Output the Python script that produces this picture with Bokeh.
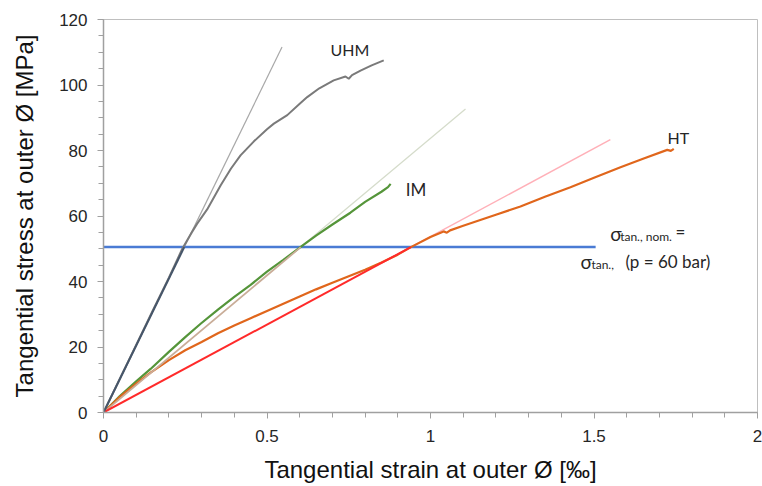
from bokeh.plotting import figure
from bokeh.models import Range1d, SingleIntervalTicker, Label
from bokeh.embed import file_html
from bokeh.resources import INLINE

# ---------------- data ----------------
uhm_x = [0, 0.05, 0.10, 0.15, 0.20, 0.241, 0.27, 0.286, 0.317, 0.358, 0.39, 0.419,
         0.46, 0.50, 0.521, 0.562, 0.60, 0.623, 0.66, 0.704, 0.74, 0.75, 0.76,
         0.786, 0.82, 0.857]
uhm_y = [0, 10.3, 20.6, 31.0, 41.2, 50.0, 55.0, 57.6, 62.0, 69.3, 74.5, 78.5,
         82.8, 86.5, 88.2, 90.8, 94.3, 96.3, 99.0, 101.4, 102.6, 101.9, 103.0,
         104.4, 106.0, 107.5]

im_x = [0, 0.05, 0.10, 0.144, 0.20, 0.25, 0.297, 0.35, 0.40, 0.45, 0.50, 0.55,
        0.602, 0.65, 0.70, 0.755, 0.80, 0.85, 0.87, 0.878]
im_y = [0, 5.0, 9.5, 13.3, 18.5, 23.0, 27.1, 31.4, 35.3, 39.0, 43.0, 46.6,
        50.5, 54.0, 57.4, 61.0, 64.3, 67.4, 68.8, 69.8]

ht_x = [0, 0.05, 0.10, 0.144, 0.20, 0.25, 0.30, 0.35, 0.40, 0.45, 0.50, 0.55,
        0.60, 0.65, 0.70, 0.75, 0.80, 0.85, 0.90, 0.94, 1.00, 1.04, 1.05, 1.06,
        1.10, 1.15, 1.20, 1.275, 1.35, 1.428, 1.50, 1.581, 1.65, 1.724, 1.735, 1.744]
ht_y = [0, 4.8, 8.8, 12.2, 16.0, 19.0, 21.5, 24.2, 26.6, 28.8, 31.0, 33.2,
        35.4, 37.6, 39.6, 41.6, 43.6, 45.8, 48.2, 50.5, 53.6, 55.3, 54.9, 55.6,
        57.0, 58.7, 60.4, 62.9, 65.9, 68.8, 71.7, 74.9, 77.5, 80.2, 79.9, 80.5]

# secant lines: origin -> intersection with nominal stress -> end of extension
sec_uhm_x = [0, 0.247, 0.546]
sec_uhm_y = [0, 50.5, 111.6]
sec_im_x = [0, 0.603, 1.107]
sec_im_y = [0, 50.5, 92.7]
sec_ht_x = [0, 0.94, 1.55]
sec_ht_y = [0, 50.5, 83.3]

nominal_x = [0, 1.505]
nominal_y = [50.5, 50.5]

series_names = ["UHM", "IM", "HT"]

x_ticks = [0, 0.5, 1, 1.5, 2]
x_tick_labels = ["0", "0.5", "1", "1.5", "2"]

# ---------------- figure ----------------
p = figure(width=762, height=486, output_backend="svg", toolbar_location=None,
           x_range=Range1d(0, 2), y_range=Range1d(0, 120),
           min_border_left=103, min_border_right=5, min_border_top=19,
           min_border_bottom=74)
p.background_fill_color = "white"
p.border_fill_color = "white"
p.outline_line_color = "#bfbfbf"
p.outline_line_width = 1
p.xgrid.grid_line_color = None
p.ygrid.grid_line_color = None

AX_FONT = "Liberation Sans"
for ax in (p.xaxis, p.yaxis):
    ax.axis_line_color = "#a0a0a0"
    ax.axis_line_width = 1.5
    ax.major_tick_line_color = "#a0a0a0"
    ax.minor_tick_line_color = "#a0a0a0"
    ax.major_tick_out = 6
    ax.major_tick_in = 0
    ax.minor_tick_out = 5
    ax.minor_tick_in = 0
    ax.major_label_text_font = AX_FONT
    ax.major_label_text_font_size = "17px"
    ax.major_label_text_color = "#262626"
    ax.axis_label_text_font = AX_FONT
    ax.axis_label_text_font_size = "24px"
    ax.axis_label_text_font_style = "normal"
    ax.axis_label_text_color = "#111111"

p.xaxis.ticker = SingleIntervalTicker(interval=0.5, num_minor_ticks=5)
p.xaxis.major_label_overrides = {float(t): s for t, s in zip(x_ticks, x_tick_labels)}
p.yaxis.ticker = SingleIntervalTicker(interval=20, num_minor_ticks=4)
p.xaxis.major_label_standoff = 11
p.yaxis.major_label_standoff = 10
p.xaxis.axis_label_standoff = 11
p.yaxis.axis_label_standoff = 18
p.xaxis.axis_label = "Tangential strain at outer Ø [‰]"
p.yaxis.axis_label = "Tangential stress at outer Ø [MPa]"

# faint extensions of secants
p.line(sec_uhm_x[1:], sec_uhm_y[1:], line_color="#a8a8a8", line_width=1.2)
p.line(sec_im_x[1:], sec_im_y[1:], line_color="#d5dccb", line_width=1.3)
p.line(sec_ht_x[1:], sec_ht_y[1:], line_color="#ffb0b8", line_width=1.5)

# nominal stress line
p.line(nominal_x, nominal_y, line_color="#4a7bd4", line_width=2.5)

# measured curves
p.line(uhm_x, uhm_y, line_color="#7a7a7a", line_width=2)
p.line(im_x, im_y, line_color="#55953a", line_width=2.2)
p.line(ht_x, ht_y, line_color="#e0661c", line_width=2.2)

# strong secants up to nominal stress
p.line(sec_im_x[:2], sec_im_y[:2], line_color="#c9ad98", line_width=1.8)
p.line(sec_ht_x[:2], sec_ht_y[:2], line_color="#ff2a2a", line_width=2)
p.line(sec_uhm_x[:2], sec_uhm_y[:2], line_color="#46566a", line_width=2)

# series labels
TXT_FONT = "Lato"
p.add_layout(Label(x=0.694, y=110.8, text=series_names[0], text_font=TXT_FONT,
                   text_font_size="16px", text_color="#262626", text_baseline="alphabetic"))
p.add_layout(Label(x=0.924, y=68.2, text=series_names[1], text_font=TXT_FONT,
                   text_font_size="17px", text_color="#262626", text_baseline="alphabetic"))
p.add_layout(Label(x=1.725, y=84.0, text=series_names[2], text_font=TXT_FONT,
                   text_font_size="16px", text_color="#262626", text_baseline="alphabetic"))

# annotation: sigma_tan.,nom. = sigma_tan.,(p = 60 bar)
def lab(x, y, t, size):
    p.add_layout(Label(x=x, y=y, text=t, text_font=TXT_FONT, text_font_size=size,
                       text_color="#262626", text_baseline="alphabetic"))

lab(1.550, 54.6, "σ", "19px")
lab(1.580, 53.6, "tan., nom.", "12px")
lab(1.749, 55.2, "=", "17px")
lab(1.459, 46.2, "σ", "19px")
lab(1.492, 45.2, "tan.,", "12px")
lab(1.596, 46.2, "(p = 60 bar)", "17px")

open("out.html", "w").write(file_html(p, INLINE))
